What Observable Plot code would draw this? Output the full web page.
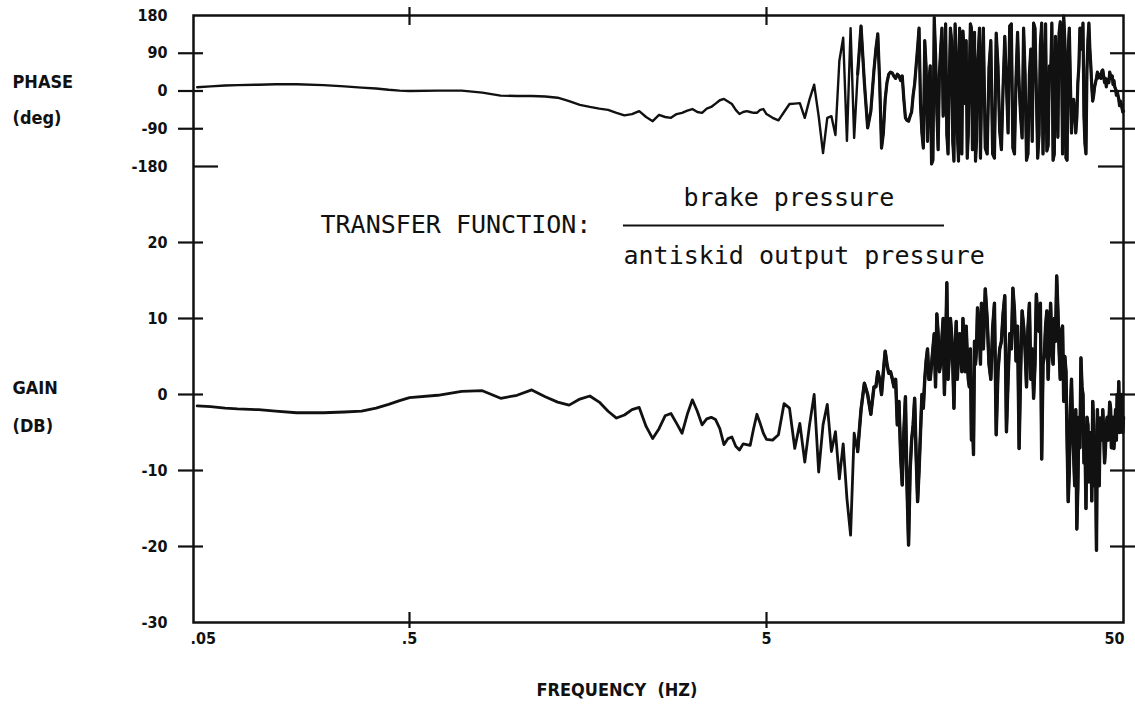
<!DOCTYPE html>
<html>
<head>
<meta charset="utf-8">
<script src="https://cdn.jsdelivr.net/npm/d3@7"></script>
<script src="https://cdn.jsdelivr.net/npm/@observablehq/plot@0.6"></script>
<style>
  html, body { margin: 0; padding: 0; background: #fff; overflow: hidden; }
  #chart { position: relative; width: 1135px; height: 709px; }
  #chart svg { position: absolute; left: 0; top: 0; }
</style>
</head>
<body>
<div id="chart"></div>
<script>
// ---------------- data ----------------
const freq = [
  0.052, 0.06, 0.07, 0.08, 0.1, 0.12, 0.15, 0.2, 0.25, 0.3, 0.35, 0.4, 0.45,
  0.5, 0.6, 0.7, 0.8, 0.9, 1.0, 1.1, 1.2, 1.3, 1.4, 1.5, 1.6, 1.7, 1.8, 1.9, 2.0,
  2.1, 2.2, 2.3, 2.4, 2.5, 2.6, 2.7, 2.8, 2.9, 3.0, 3.1, 3.2, 3.3, 3.4, 3.5, 3.6,
  3.7, 3.8, 3.9, 4.0, 4.1, 4.2, 4.3, 4.4, 4.5, 4.6, 4.7, 4.8, 4.9, 5.0,
  5.2, 5.4, 5.6, 5.8, 6.0, 6.2, 6.4, 6.6, 6.8, 7.0, 7.2, 7.4, 7.6, 7.8, 8.0, 8.2,
  8.4, 8.6, 8.8, 9.0, 9.2, 9.4, 9.6, 9.8, 10.0,
  10.25, 10.5, 10.75, 11, 11.25, 11.5, 11.75, 12, 12.25, 12.5, 12.75, 13, 13.25,
  13.5, 13.75, 14, 14.25, 14.5, 14.75, 15, 15.25, 15.5, 15.75, 16, 16.25, 16.5,
  16.75, 17, 17.25, 17.5, 17.75, 18, 18.25, 18.5, 18.75, 19, 19.25, 19.5, 19.75, 20,
  20.5, 21, 21.5, 22, 22.5, 23, 23.5, 24, 24.5, 25, 25.5, 26, 26.5, 27, 27.5, 28,
  28.5, 29, 29.5, 30, 30.5, 31, 31.5, 32, 32.5, 33, 33.5, 34, 34.5, 35, 35.5, 36,
  36.5, 37, 37.5, 38, 38.5, 39, 39.5, 40, 40.5, 41, 41.5, 42, 42.5, 43, 43.5, 44,
  44.5, 45, 45.5, 46, 46.5, 47, 47.5, 48, 48.5, 49, 49.5, 50
];

const phaseDeg = [
  9, 11, 13, 14, 15, 16, 16, 14, 11, 8, 6, 3, 1,
  0, 1, 1, -4, -11, -12, -12, -13, -16, -24, -33, -38, -42, -45, -52, -58,
  -55, -48, -62, -72, -57, -62, -64, -55, -52, -47, -43, -50, -52, -42, -38, -30,
  -22, -19, -25, -31, -45, -55, -50, -48, -50, -52, -52, -45, -43, -55,
  -64, -70, -50, -31, -30, -29, -64, -20, 15, -60, -148, -64, -60, -105, 72, 127,
  -119, 150, -112, 40, 155, 20, -88, -48, 50,
  136, -136, -20, 40, 43, 30, 36, 36, -64, -72, -50, 17, 103,
  -30, -136, 55, 20, -174, 175, -48, 40, 150, -20, -103, 20, 119,
  -167, 88, -167, 40, 143, -30, -160, 40, 150, 0, -167, 60, 150, -20,
  -136, 55, -150, 138, -95, 10, 17, 155, -136, 30, 17, -112, 40, -150, 100, 162,
  0, -103, 162, 20, -143, 60, 162, -150, 40, 138, 120, 179, -160, 95, 20, -40,
  -50, -64, 60, 130, 162, -126, 50, 162, 60, -24, 10, 31, 31, 40, 48, 35,
  30, 24, 20, 36, 36, 25, 5, 0, -20, -24, -40, -48
];

const gainDb = [
  -1.5, -1.6, -1.8, -1.9, -2.0, -2.2, -2.4, -2.4, -2.3, -2.2, -1.8, -1.3, -0.8,
  -0.4, -0.1, 0.4, 0.5, -0.5, -0.1, 0.6, -0.3, -1.0, -1.4, -0.6, -0.2, -1.0, -2.2, -3.1, -2.7,
  -2.0, -1.7, -4.2, -5.8, -4.5, -2.8, -2.5, -3.8, -5.1, -2.6, -0.7, -2.2, -4.0, -3.2, -3.0, -3.3,
  -4.5, -6.6, -5.8, -5.6, -6.8, -7.3, -6.5, -6.6, -6.7, -4.5, -2.6, -3.8, -5.1, -5.9,
  -6.0, -5.3, -1.2, -1.8, -7.1, -3.8, -8.9, -4.0, 0, -10.2, -4.0, -1.3, -7.5, -4.9, -11.1, -6.5,
  -13.7, -18.5, -5.1, -7.5, -2.0, 1.5, 0, -2.6, 1.0,
  3.0, 0, 5.7, 2.8, 2.1, 2.0, -0.9, -11.9, -0.3, -19.8, -6, -0.5, -14.1,
  -5, -1.8, 4.4, 2.0, 4.0, 8, 10.6, 3.0, 7.4, 0, 14.7, 5, 7.9,
  -1.8, 9.6, 5.7, 5.7, 10.0, 3, 5.3, 1, -6, -7.9, 4, 11.4, 8, 12,
  13.9, 4.0, 8.7, -5.3, 6, 10.6, -4.9, 8, 14.0, 4.4, -7.1, 11.0, 6, 8.7, 2, -0.5,
  13.2, 8.3, -8.5, 5, 11.0, 7, 5.7, 10, 15.6, 6, 8.3, -0.9, 3, -14.1, -2, -4.0,
  -12, -17.7, -3, 4.8, 0, -6, -3, -11.5, -5, -0.9, -12, -20.5, -8, -3.1, -6, -5,
  -7.1, -3, -4, -1.8, -5, -7.1, -2, 0, 1.7, -2, -4.0, -3
];

// extra readings inside the densely oscillating band (10-50 Hz)
const freqFine = [
  10.125, 10.375, 10.625, 10.875, 11.125, 11.375, 11.625, 11.875, 12.125, 12.375,
  12.625, 12.875, 13.125, 13.375, 13.625, 13.875, 14.125, 14.375, 14.625, 14.875,
  15.125, 15.375, 15.625, 15.875, 16.125, 16.375, 16.625, 16.875, 17.125, 17.375,
  17.625, 17.875, 18.125, 18.375, 18.625, 18.875, 19.125, 19.375, 19.625, 19.875,
  20.25, 20.75, 21.25, 21.75, 22.25, 22.75, 23.25, 23.75, 24.25, 24.75,
  25.25, 25.75, 26.25, 26.75, 27.25, 27.75, 28.25, 28.75, 29.25, 29.75,
  30.25, 30.75, 31.25, 31.75, 32.25, 32.75, 33.25, 33.75, 34.25, 34.75,
  35.25, 35.75, 36.25, 36.75, 37.25, 37.75, 38.25, 38.75, 39.25, 39.75,
  40.25, 40.75, 41.25, 41.75, 42.25, 42.75, 43.25, 43.75, 44.25, 44.75,
  45.25, 45.75, 46.25, 46.75, 47.25, 47.75, 48.25, 48.75, 49.25, 49.75
];
const phaseFine = [
  100, 20, -100, 20, 45, 35, 40, 25, -20, -70,
  -60, -10, 60, 150, -100, 120, -120, 60, -165, 90,
  -140, 100, -60, 160, -150, 150, -120, 160, -100, 150,
  -150, 100, 120, -100, 160, -140, 140, -120, 100, -160,
  150, -150, 120, -160, 60, -140, 130, -100, 160, -150,
  140, -60, 150, -165, 40, -120, 150, -160, 110, -150,
  160, -130, 30, -165, 130, -110, 165, -150, 120, -165,
  150, -100, -20, -100, 20, 150, 100, -60, -150, 120,
  100, 10, -10, 20, 45, 35, 30, 50, 20, 10,
  28, 45, 30, 15, 10, -10, -10, -35, -30, -50
];
const gainFine = [
  1, 2, 3, 4, 3, 1, -4, -8, -5, -12,
  -10, -4, -8, -10, 0, 2, 6, 2, 6, 1,
  8, 4, 10, 6, 2, 10, 4, 6, 2, 8,
  3, 7, 9, 2, 6, -2, 7, 6, 9, 4,
  6, 10, 2, 12, 3, 7, 13, 2, 6, 11,
  9, 3, 9, 1, 12, 6, 4, 10, 12, 4,
  9, 2, 12, 4, 7, 11, 2, 9, 5, -6,
  -10, 2, -8, -2, -12, -7, 1, -9, -15, -4,
  -8, -14, -4, -8, -2, -12, -6, -2, -9, -4,
  -6, -1, -7, -3, -5, -6, -3, -5, 0, -5
];

const phaseTicks = [180, 90, 0, -90, -180];
const gainTicks = [20, 10, 0, -10, -20, -30];
const freqTicks = [0.05, 0.5, 5, 50];
const freqTickLabels = [".05", ".5", "5", "50"];

if (freq.length !== phaseDeg.length || freq.length !== gainDb.length ||
    freqFine.length !== phaseFine.length || freqFine.length !== gainFine.length) {
  throw new Error(`length mismatch ${freq.length} ${phaseDeg.length} ${gainDb.length} ${freqFine.length} ${phaseFine.length} ${gainFine.length}`);
}
const rows = d3.sort([
  ...freq.map((f, i) => ({f, phase: phaseDeg[i], gain: gainDb[i]})),
  ...freqFine.map((f, i) => ({f, phase: phaseFine[i], gain: gainFine[i]}))
], d => d.f);
const denseRows = rows.filter(d => d.f >= 9);

// ---------------- layout / style ----------------
const W = 1135, H = 709;
const M = {top: 15, right: 12, bottom: 87, left: 193};
const frameW = W - M.left - M.right;
const INK = "#111";
const LABEL_FONT = '"Liberation Sans Narrow", "DejaVu Sans Condensed", "Liberation Sans", Arial, sans-serif';
const MONO_FONT = '"DejaVu Sans Mono", "Liberation Mono", monospace';

// log frequency axis; the first decade (.05-.5) is drawn compressed in the original
const xScale = {type: "log", domain: [0.05, 0.5, 50], range: [M.left, M.left + 216, W - M.right], axis: null};

const base = {
  width: W, height: H,
  marginTop: M.top, marginRight: M.right, marginBottom: M.bottom, marginLeft: M.left,
  style: {background: "transparent", fontFamily: LABEL_FONT, color: INK}
};

function note(str, x, y, o = {}) {
  return Plot.text([str], {
    frameAnchor: "top-left", dx: x - M.left, dy: y - M.top,
    text: d => d, lineAnchor: "bottom", textAnchor: "start",
    fill: INK, ...o
  });
}
const boldLabel = {fontFamily: LABEL_FONT, fontWeight: "bold", fontSize: 18};
const tickFont = {fontFamily: LABEL_FONT, fontWeight: "bold", fontSize: 16, fill: INK};
const monoLabel = {fontFamily: MONO_FONT, fontSize: 25};

// ---------------- phase panel ----------------
const phasePlot = Plot.plot({
  ...base,
  x: xScale,
  y: {domain: [-180, 180], range: [166, 15], axis: null},
  marks: [
    Plot.frame({stroke: INK, strokeWidth: 2.5}),
    Plot.axisY(phaseTicks, {anchor: "left", label: null, tickSize: 0, tickPadding: 26, tickFormat: d => String(d), ...tickFont}),
    // ticks crossing the left and right frame
    Plot.ruleY(phaseTicks.filter(d => Math.abs(d) < 180), {stroke: INK, strokeWidth: 2.2, insetLeft: -15, insetRight: frameW - 10}),
    Plot.ruleY(phaseTicks.filter(d => Math.abs(d) < 180), {stroke: INK, strokeWidth: 2.2, insetLeft: frameW - 13, insetRight: -12}),
    Plot.ruleY([-180], {stroke: INK, strokeWidth: 2.2, insetLeft: 0, insetRight: frameW - 25}),
    Plot.ruleY([-180], {stroke: INK, strokeWidth: 2.2, insetLeft: frameW - 25, insetRight: 0}),
    // decade ticks on the top edge
    Plot.ruleX(freqTicks.slice(1, 3), {stroke: INK, strokeWidth: 2.2, insetTop: -8, insetBottom: (H - M.bottom - M.top) - 10}),
    Plot.line(rows, {x: "f", y: "phase", stroke: INK, strokeWidth: 2.4, strokeLinejoin: "round"}),
    Plot.line(denseRows, {x: "f", y: "phase", stroke: INK, strokeWidth: 3.2, strokeLinejoin: "round"}),
    note("PHASE", 12, 87, boldLabel),
    note("(deg)", 12, 123, boldLabel)
  ]
});

// ---------------- gain panel ----------------
const gainPlot = Plot.plot({
  ...base,
  x: xScale,
  y: {domain: [-30, 20], range: [H - M.bottom, 242], axis: null},
  marks: [
    Plot.axisY(gainTicks, {anchor: "left", label: null, tickSize: 0, tickPadding: 26, tickFormat: d => String(d), ...tickFont}),
    Plot.ruleY(gainTicks.filter(d => d > -30), {stroke: INK, strokeWidth: 2.2, insetLeft: -15, insetRight: frameW - 10}),
    Plot.ruleY(gainTicks.filter(d => d > -30), {stroke: INK, strokeWidth: 2.2, insetLeft: frameW - 13, insetRight: -12}),
    // decade ticks on the bottom edge
    Plot.ruleX(freqTicks.slice(1, 3), {stroke: INK, strokeWidth: 2.2, insetTop: (H - M.bottom - M.top) - 10, insetBottom: -6}),
    // frequency tick labels
    Plot.text([0], {x: i => freqTicks[i], text: i => freqTickLabels[i], frameAnchor: "bottom", dy: 21, dx: -3,
      textAnchor: "start", ...tickFont}),
    Plot.text([1, 2], {x: i => freqTicks[i], text: i => freqTickLabels[i], frameAnchor: "bottom", dy: 21,
      textAnchor: "middle", ...tickFont}),
    Plot.text([3], {x: i => freqTicks[i], text: i => freqTickLabels[i], frameAnchor: "bottom", dy: 21, dx: 1,
      textAnchor: "end", ...tickFont}),
    Plot.line(rows, {x: "f", y: "gain", stroke: INK, strokeWidth: 2.8, strokeLinejoin: "round"}),
    Plot.line(denseRows, {x: "f", y: "gain", stroke: INK, strokeWidth: 3.4, strokeLinejoin: "round"}),
    // labels
    note("GAIN", 12, 393, boldLabel),
    note("(DB)", 12, 431, boldLabel),
    note("FREQUENCY  (HZ)", 697, 695, {...boldLabel, textAnchor: "end"}),
    note("TRANSFER FUNCTION:", 320, 232, monoLabel),
    note("brake pressure", 683, 205, monoLabel),
    note("antiskid output pressure", 623, 263, monoLabel),
    // fraction bar
    Plot.ruleY([20], {stroke: INK, strokeWidth: 2, dy: 225 - 242, insetLeft: 623 - M.left, insetRight: W - M.right - 944})
  ]
});

const chart = document.getElementById("chart");
chart.appendChild(phasePlot);
chart.appendChild(gainPlot);
</script>
</body>
</html>
